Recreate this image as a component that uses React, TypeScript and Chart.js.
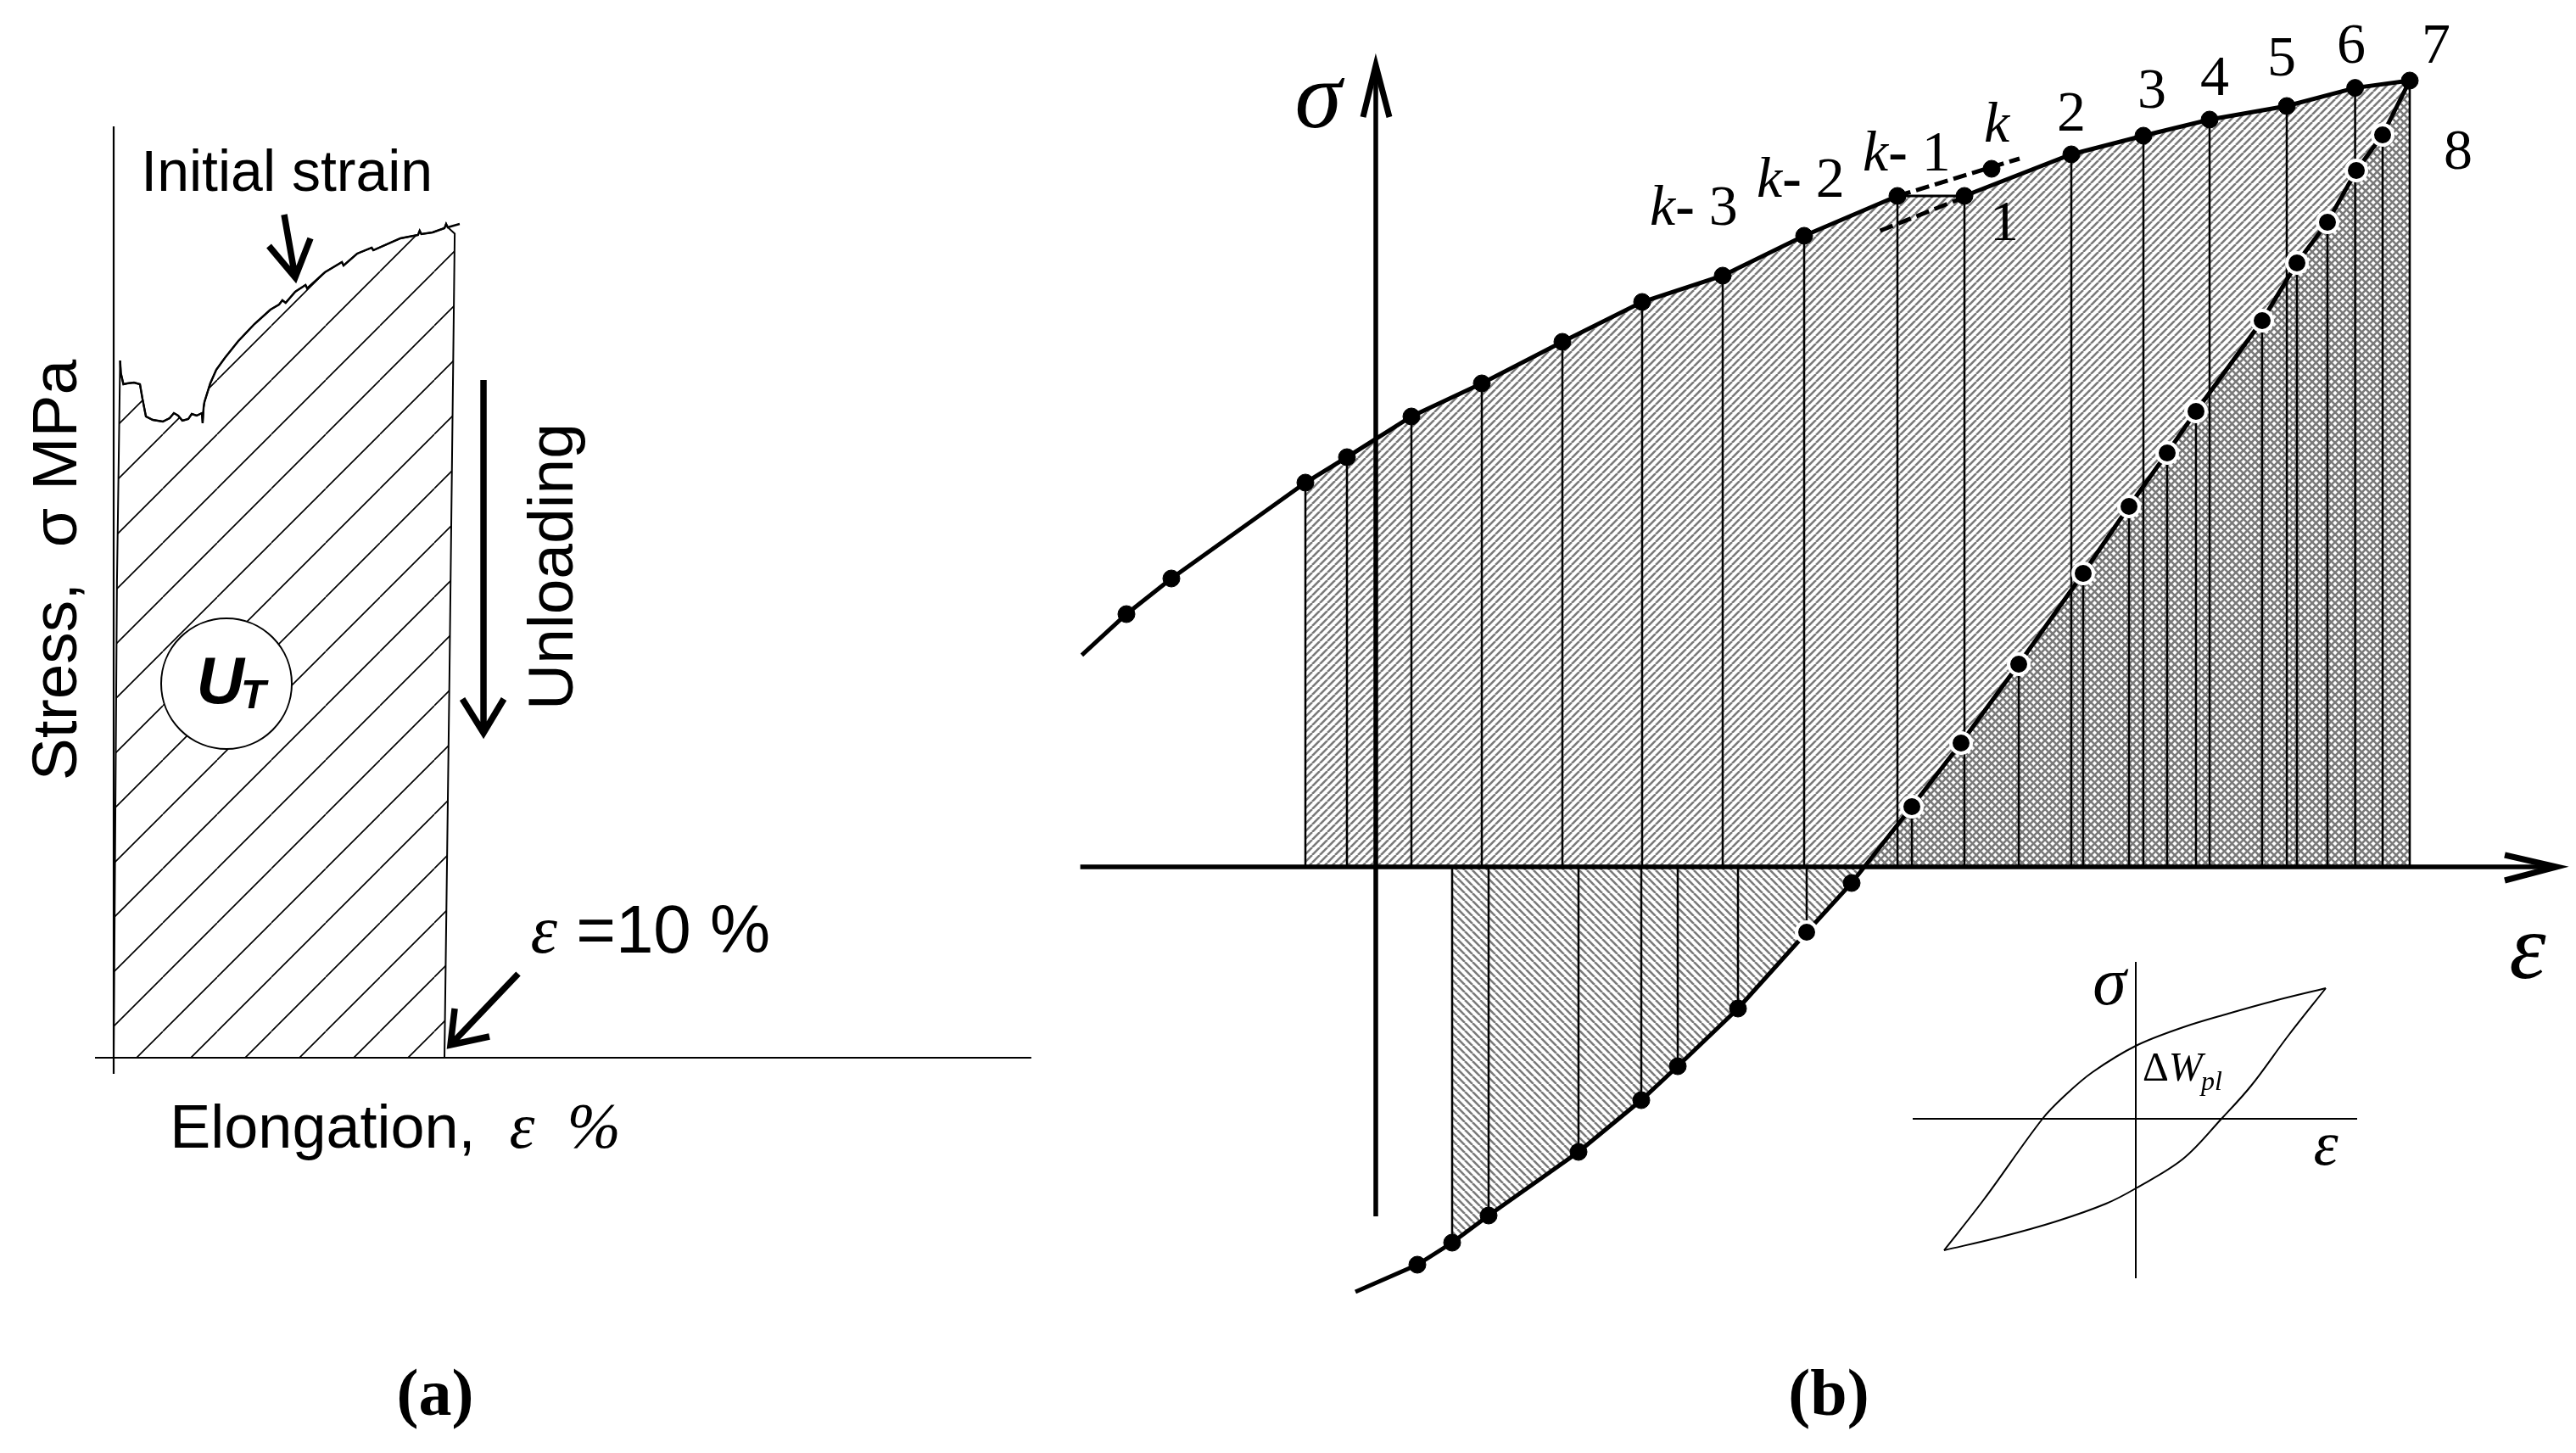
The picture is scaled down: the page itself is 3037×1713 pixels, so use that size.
import React, { useEffect, useRef } from 'react';
import { Chart, registerables } from 'chart.js';

Chart.register(...registerables);

const SERIF = '"Liberation Serif", "Times New Roman", serif';
const SANS = '"Liberation Sans", Arial, sans-serif';

// ================= Panel (a) data (strain %, stress MPa) =================
const aStrainMin = -3.436;
const aStrainMax = 28.615;
const aStressMin = -233;
const aStressMax = 623.5;

const aCurveStrain = [0.195, 0.218, 0.295, 0.41, 0.615, 0.795, 0.87, 0.975, 1.18, 1.487, 1.692, 1.82, 1.95, 2.077, 2.256, 2.36, 2.51, 2.667, 2.69, 2.72, 2.744, 2.92, 3.1, 3.36, 3.77, 4.256, 4.74, 5.0, 5.1, 5.2, 5.487, 5.8, 5.85, 6.385, 6.9, 6.95, 7.36, 7.8, 7.85, 8.667, 9.2, 9.25, 9.3, 9.64, 10.0, 10.05, 10.1, 10.46];
const aCurveStress = [411, 403.5, 397, 397.5, 398, 397, 388.5, 378, 376, 375, 377, 380, 378.5, 375.5, 376.5, 379.5, 378.5, 380, 374, 383.5, 386.5, 397.5, 405.5, 412.5, 422.5, 432.5, 441, 444, 446.5, 445, 451.5, 455.5, 453.5, 463, 469, 467, 474, 477.5, 476, 483, 485, 487.5, 485.5, 486.5, 489, 491.5, 489.5, 491.5];
const aLeftEdgeStrain = [0, 0.1];
const aLeftEdgeStress = [0, 280];
const aRightEdgeStrain = [10.31, 10.15, 10.0];
const aRightEdgeStress = [485.75, 223.5, 0];
const aAxisXStrain = [-0.564, 27.74];
const aAxisYStress = [-9.5, 549];
const aInitArrowStrain = [5.154, 5.487];
const aInitArrowStress = [497, 460];
const aInitHeadStrain = [4.692, 5.487, 5.949];
const aInitHeadStress = [478.5, 460, 483];
const aUnloadArrowStrain = [11.18, 11.18];
const aUnloadArrowStress = [399.5, 193];
const aUnloadHeadStrain = [10.54, 11.18, 11.795];
const aUnloadHeadStress = [211.5, 191.5, 211.5];
const aEpsArrowStrain = [12.23, 10.18];
const aEpsArrowStress = [49.5, 7.5];
const aEpsHeadStrain = [10.31, 10.18, 11.36];
const aEpsHeadStress = [29, 7.5, 12.5];
const aCircleStrain = [3.41];
const aCircleStress = [220.5];

// ================= Panel (b) data (strain, stress, arbitrary units) =================
const bStrainMin = -18.6;
const bStrainMax = 70.75;
const bStressMin = -34.55;
const bStressMax = 51.1;

// loading branch (index 0 = line start, 11 = k-1, 12 = point 1, 13..18 = points 2..7)
const bUpperStrain = [-17.33, -14.7, -12.05, -4.15, -1.7, 2.1, 6.25, 11.0, 15.7, 20.45, 25.25, 30.75, 34.7, 41.0, 45.25, 49.15, 53.7, 57.73, 60.95];
const bUpperStress = [12.48, 14.9, 17.0, 22.65, 24.15, 26.55, 28.5, 30.95, 33.3, 34.85, 37.2, 39.55, 39.55, 42.0, 43.1, 44.05, 44.85, 45.92, 46.35];
// unloading / compression branch (index 0 = line start, last = point 7)
const bUnloadStrain = [-1.2, 2.45, 4.5, 6.65, 11.95, 15.65, 17.8, 21.35, 25.4, 28.05, 31.6, 34.5, 37.9, 41.7, 44.4, 46.65, 48.35, 52.25, 54.3, 56.1, 57.8, 59.35, 60.95];
const bUnloadStress = [-25.05, -23.45, -22.15, -20.55, -16.8, -13.75, -11.75, -8.35, -3.85, -0.95, 3.55, 7.3, 11.95, 17.3, 21.25, 24.4, 26.85, 32.2, 35.6, 38.0, 41.05, 43.15, 46.35];
const bZeroCross = 28.8;
const bKDotStrain = [36.3];
const bKDotStress = [41.15];
const bDashUpperStrain = [30.75, 37.95];
const bDashUpperStress = [39.55, 41.75];
const bDashLowerStrain = [29.73, 34.5];
const bDashLowerStress = [37.5, 39.4];
const bUpperVerticalIdx = [3, 4, 5, 6, 7, 8, 9, 10, 11, 12, 13, 14, 15, 16, 17, 18];
const bUnloadUpVerticalIdx = [10, 12, 13, 14, 15, 16, 17, 18, 19, 21];
const bUnloadDownVerticalIdx = [2, 3, 4, 5, 6, 7, 8];
const bRingDotIdx = [8, 10, 11, 12, 13, 14, 15, 16, 17, 18, 19, 20, 21];
const bBlackUnloadDotIdx = [1, 2, 3, 4, 5, 6, 7, 9];
const bSigmaAxisStress = [-20.6, 47.25];
const bEpsAxisStrain = [-17.42, 69.6];
const bSigmaHeadStrain = [-0.75, 0, 0.8];
const bSigmaHeadStress = [44.2, 47.25, 44.2];
const bEpsHeadStrain = [66.55, 69.6, 66.55];
const bEpsHeadStress = [0.7, 0, -0.8];
// inset hysteresis loop
const bInsetOriginStrain = 44.8;
const bInsetOriginStress = -14.85;
const bInsetVStress = [-24.25, -5.6];
const bInsetHStrain = [31.65, 57.85];
const bLoopUpperStrain = [33.5, 35.85, 39.3, 40.65, 42.25, 44.8, 47.6, 50.25, 52.95, 56.0];
const bLoopUpperStress = [-22.6, -19.6, -14.85, -13.45, -12.1, -10.55, -9.45, -8.65, -7.9, -7.15];
const bLoopLowerStrain = [33.5, 36.9, 40.1, 43.05, 44.8, 47.6, 49.85, 51.6, 53.75, 56.0];
const bLoopLowerStress = [-22.6, -21.8, -20.9, -19.85, -18.95, -17.2, -14.85, -12.9, -10.0, -7.15];

type Pt = { x: number; y: number | null };
type Part = { t: string; f: string };
type Label = { parts: Part[]; x: number; y: number; align?: 'left' | 'center'; rot?: number };

const zip = (xs: number[], ys: number[]): Pt[] => xs.map((x, i) => ({ x, y: ys[i] }));
const gap: Pt = { x: 0, y: null };

const aLabels: Label[] = [
  { parts: [{ t: 'Initial strain', f: `68px ${SANS}` }], x: 5.236, y: 511, align: 'center' },
  { parts: [{ t: 'Stress,  σ MPa', f: `75px ${SANS}` }], x: -1.128, y: 287.5, align: 'center', rot: -90 },
  { parts: [{ t: 'Unloading', f: `75px ${SANS}` }], x: 13.87, y: 289.5, align: 'center', rot: -90 },
  { parts: [{ t: 'ε', f: `italic 80px ${SERIF}` }, { t: ' =10 %', f: `80px ${SANS}` }], x: 12.6, y: 62 },
  { parts: [{ t: 'Elongation,  ', f: `72px ${SANS}` }, { t: 'ε', f: `italic 76px ${SERIF}` }, { t: '  %', f: `italic 76px ${SERIF}` }], x: 1.7, y: -53 },
  { parts: [{ t: '(a)', f: `bold 78px ${SERIF}` }], x: 9.72, y: -210.5, align: 'center' },
  { parts: [{ t: 'U', f: `italic bold 78px ${SANS}` }], x: 2.5, y: 209 },
  { parts: [{ t: 'T', f: `italic bold 48px ${SANS}` }], x: 3.846, y: 206 },
];

const kLabel = (n: string, x: number, y: number): Label => ({
  parts: [{ t: 'k', f: `italic 68px ${SERIF}` }, { t: '-', f: `bold 68px ${SERIF}` }, { t: ' ' + n, f: `68px ${SERIF}` }],
  x, y,
});
const num = (n: string, x: number, y: number): Label => ({ parts: [{ t: n, f: `68px ${SERIF}` }], x, y, align: 'center' });

const bLabels: Label[] = [
  { parts: [{ t: 'σ', f: `italic 112px ${SERIF}` }], x: -3.4, y: 43.6, align: 'center' },
  { parts: [{ t: 'ε', f: `italic 110px ${SERIF}` }], x: 67.9, y: -6.55, align: 'center' },
  kLabel('3', 16.15, 37.85),
  kLabel('2', 22.45, 39.5),
  kLabel('1', 28.7, 41.05),
  { parts: [{ t: 'k', f: `italic 68px ${SERIF}` }], x: 35.85, y: 42.75 },
  num('1', 37.05, 36.95),
  num('2', 41.0, 43.4),
  num('3', 45.75, 44.75),
  num('4', 49.45, 45.5),
  num('5', 53.4, 46.65),
  num('6', 57.5, 47.4),
  num('7', 62.5, 47.4),
  num('8', 63.8, 41.15),
  { parts: [{ t: 'σ', f: `italic 80px ${SERIF}` }], x: 43.25, y: -8.1, align: 'center' },
  { parts: [{ t: 'ε', f: `italic 74px ${SERIF}` }], x: 56.0, y: -17.55, align: 'center' },
  { parts: [{ t: 'Δ', f: `48px ${SERIF}` }, { t: 'W', f: `italic 48px ${SERIF}` }], x: 45.2, y: -12.6 },
  { parts: [{ t: 'pl', f: `italic 32px ${SERIF}` }], x: 48.65, y: -13.15 },
  { parts: [{ t: '(b)', f: `bold 78px ${SERIF}` }], x: 26.7, y: -32.3, align: 'center' },
];

const labelPlugin = (labels: Label[]) => ({
  id: 'labels',
  afterDatasetsDraw(chart: any) {
    const { ctx, scales } = chart;
    ctx.save();
    ctx.fillStyle = '#000';
    ctx.textBaseline = 'alphabetic';
    ctx.textAlign = 'left';
    for (const lb of labels) {
      const px = scales.x.getPixelForValue(lb.x);
      const py = scales.y.getPixelForValue(lb.y);
      let total = 0;
      for (const p of lb.parts) {
        ctx.font = p.f;
        total += ctx.measureText(p.t).width;
      }
      ctx.save();
      ctx.translate(px, py);
      if (lb.rot) ctx.rotate((lb.rot * Math.PI) / 180);
      let cx = lb.align === 'center' ? -total / 2 : 0;
      for (const p of lb.parts) {
        ctx.font = p.f;
        ctx.fillText(p.t, cx, 0);
        cx += ctx.measureText(p.t).width;
      }
      ctx.restore();
    }
    ctx.restore();
  },
});

function makeHatch(target: HTMLCanvasElement, dir: 1 | -1, size: number, color: string, width: number) {
  const c = document.createElement('canvas');
  c.width = size;
  c.height = size;
  const g = c.getContext('2d')!;
  g.strokeStyle = color;
  g.lineWidth = width;
  g.beginPath();
  for (let k = -1; k <= 1; k++) {
    if (dir === 1) {
      g.moveTo(k * size, size);
      g.lineTo(k * size + size, 0);
    } else {
      g.moveTo(k * size, 0);
      g.lineTo(k * size + size, size);
    }
  }
  g.stroke();
  return target.getContext('2d')!.createPattern(c, 'repeat')!;
}

const baseDs = {
  pointRadius: 0,
  fill: false,
  tension: 0,
  borderColor: '#000',
  spanGaps: false,
};

function commonOptions(xmin: number, xmax: number, ymin: number, ymax: number) {
  return {
    animation: false as const,
    responsive: false,
    devicePixelRatio: 1,
    events: [] as any[],
    layout: { padding: 0, autoPadding: false },
    plugins: { legend: { display: false }, tooltip: { enabled: false }, title: { display: false } },
    scales: {
      x: { type: 'linear' as const, min: xmin, max: xmax, display: false },
      y: { type: 'linear' as const, min: ymin, max: ymax, display: false },
    },
  };
}

function buildA(canvas: HTMLCanvasElement) {
  const hatch = makeHatch(canvas, 1, 64, '#000', 1.6);
  const curve = zip(aCurveStrain, aCurveStress);
  const region: Pt[] = [
    ...zip(aLeftEdgeStrain, aLeftEdgeStress),
    ...curve.filter((p) => p.x <= aRightEdgeStrain[0]),
    ...zip(aRightEdgeStrain, aRightEdgeStress),
  ];
  const axes: Pt[] = [
    ...zip(aAxisXStrain, [0, 0]),
    gap,
    ...zip([0, 0], aAxisYStress),
  ];
  const arrows: Pt[] = [
    ...zip(aInitArrowStrain, aInitArrowStress), gap,
    ...zip(aInitHeadStrain, aInitHeadStress), gap,
    ...zip(aUnloadArrowStrain, aUnloadArrowStress), gap,
    ...zip(aUnloadHeadStrain, aUnloadHeadStress), gap,
    ...zip(aEpsArrowStrain, aEpsArrowStress), gap,
    ...zip(aEpsHeadStrain, aEpsHeadStress),
  ];
  return new Chart(canvas, {
    type: 'line',
    data: {
      datasets: [
        { ...baseDs, data: region, fill: 'shape', backgroundColor: hatch, borderWidth: 2, order: 100 },
        { ...baseDs, data: axes, borderWidth: 2.2, order: 80 },
        { ...baseDs, data: curve, borderWidth: 2.4, order: 70 },
        { ...baseDs, data: arrows, borderWidth: 7.5, borderJoinStyle: 'miter', order: 60 },
        {
          ...baseDs, data: zip(aCircleStrain, aCircleStress), showLine: false, pointRadius: 77,
          pointBackgroundColor: '#fff', pointBorderColor: '#000', pointBorderWidth: 2, order: 10,
        },
      ] as any,
    },
    options: commonOptions(aStrainMin, aStrainMax, aStressMin, aStressMax) as any,
    plugins: [labelPlugin(aLabels)],
  });
}

function buildB(canvas: HTMLCanvasElement) {
  const slash = makeHatch(canvas, 1, 9, '#7a7a7a', 2.6);
  const back = makeHatch(canvas, -1, 9, '#7a7a7a', 2.6);
  const upper = zip(bUpperStrain, bUpperStress);
  const unload = zip(bUnloadStrain, bUnloadStress);
  const last = unload.length - 1;

  const upperPoly: Pt[] = [
    { x: bUpperStrain[3], y: 0 },
    ...upper.slice(3),
    { x: bUpperStrain[bUpperStrain.length - 1], y: 0 },
  ];
  const checkerPoly: Pt[] = [
    { x: bZeroCross, y: 0 },
    ...unload.slice(10),
    { x: bUnloadStrain[last], y: 0 },
  ];
  const lowerPoly: Pt[] = [
    { x: bUnloadStrain[2], y: 0 },
    { x: bZeroCross, y: 0 },
    ...unload.slice(2, 10).reverse(),
  ];

  const verticals: Pt[] = [];
  const addV = (xs: number[], ys: number[], idx: number[]) => {
    for (const i of idx) verticals.push({ x: xs[i], y: ys[i] }, { x: xs[i], y: 0 }, gap);
  };
  addV(bUpperStrain, bUpperStress, bUpperVerticalIdx);
  addV(bUnloadStrain, bUnloadStress, bUnloadUpVerticalIdx);
  addV(bUnloadStrain, bUnloadStress, bUnloadDownVerticalIdx);

  const axes: Pt[] = [
    ...zip([0, 0], bSigmaAxisStress), gap,
    ...zip(bEpsAxisStrain, [0, 0]),
  ];
  const heads: Pt[] = [
    ...zip(bSigmaHeadStrain, bSigmaHeadStress), gap,
    ...zip(bEpsHeadStrain, bEpsHeadStress),
  ];
  const blackDots: Pt[] = [
    ...upper.slice(1),
    ...zip(bKDotStrain, bKDotStress),
    ...bBlackUnloadDotIdx.map((i) => unload[i]),
  ];
  const ringDots: Pt[] = bRingDotIdx.map((i) => unload[i]);
  const inset: Pt[] = [
    ...zip([bInsetOriginStrain, bInsetOriginStrain], bInsetVStress), gap,
    ...zip(bInsetHStrain, [bInsetOriginStress, bInsetOriginStress]),
  ];
  const clear = 'rgba(0,0,0,0)';

  return new Chart(canvas, {
    type: 'line',
    data: {
      datasets: [
        { ...baseDs, data: upperPoly, fill: 'shape', backgroundColor: slash, borderColor: clear, borderWidth: 0.01, order: 100 },
        { ...baseDs, data: checkerPoly, fill: 'shape', backgroundColor: back, borderColor: clear, borderWidth: 0.01, order: 99 },
        { ...baseDs, data: lowerPoly, fill: 'shape', backgroundColor: back, borderColor: clear, borderWidth: 0.01, order: 98 },
        { ...baseDs, data: verticals, borderWidth: 2.5, order: 90 },
        { ...baseDs, data: axes, borderWidth: 5.5, order: 80 },
        { ...baseDs, data: heads, borderWidth: 7, borderJoinStyle: 'miter', order: 79 },
        { ...baseDs, data: upper.slice(0, 12), borderWidth: 5, order: 70 },
        { ...baseDs, data: upper.slice(11, 13), borderWidth: 3, order: 70 },
        { ...baseDs, data: upper.slice(12), borderWidth: 5, order: 70 },
        { ...baseDs, data: unload, borderWidth: 5, order: 70 },
        { ...baseDs, data: zip(bDashUpperStrain, bDashUpperStress), borderWidth: 5, borderDash: [16, 7], order: 60 },
        { ...baseDs, data: zip(bDashLowerStrain, bDashLowerStress), borderWidth: 5, borderDash: [16, 7], order: 60 },
        { ...baseDs, data: inset, borderWidth: 2, order: 50 },
        { ...baseDs, data: zip(bLoopUpperStrain, bLoopUpperStress), borderWidth: 2, tension: 0.35, order: 50 },
        { ...baseDs, data: zip(bLoopLowerStrain, bLoopLowerStress), borderWidth: 2, tension: 0.35, order: 50 },
        {
          ...baseDs, data: ringDots, showLine: false, pointRadius: 12, pointBackgroundColor: '#000',
          pointBorderColor: '#fff', pointBorderWidth: 4, order: 9,
        },
        {
          ...baseDs, data: blackDots, showLine: false, pointRadius: 10, pointBackgroundColor: '#000',
          pointBorderColor: '#000', pointBorderWidth: 1, order: 8,
        },
      ] as any,
    },
    options: commonOptions(bStrainMin, bStrainMax, bStressMin, bStressMax) as any,
    plugins: [labelPlugin(bLabels)],
  });
}

export default function App() {
  const refA = useRef<HTMLCanvasElement>(null);
  const refB = useRef<HTMLCanvasElement>(null);
  useEffect(() => {
    const chA = buildA(refA.current!);
    const chB = buildB(refB.current!);
    return () => {
      chA.destroy();
      chB.destroy();
    };
  }, []);
  return (
    <div style={{ position: 'absolute', left: 0, top: 0, width: 3037, height: 1713, background: '#fff', overflow: 'hidden' }}>
      <canvas ref={refA} width={1250} height={1713} style={{ position: 'absolute', left: 0, top: 0, width: 1250, height: 1713 }} />
      <canvas ref={refB} width={1787} height={1713} style={{ position: 'absolute', left: 1250, top: 0, width: 1787, height: 1713 }} />
    </div>
  );
}
